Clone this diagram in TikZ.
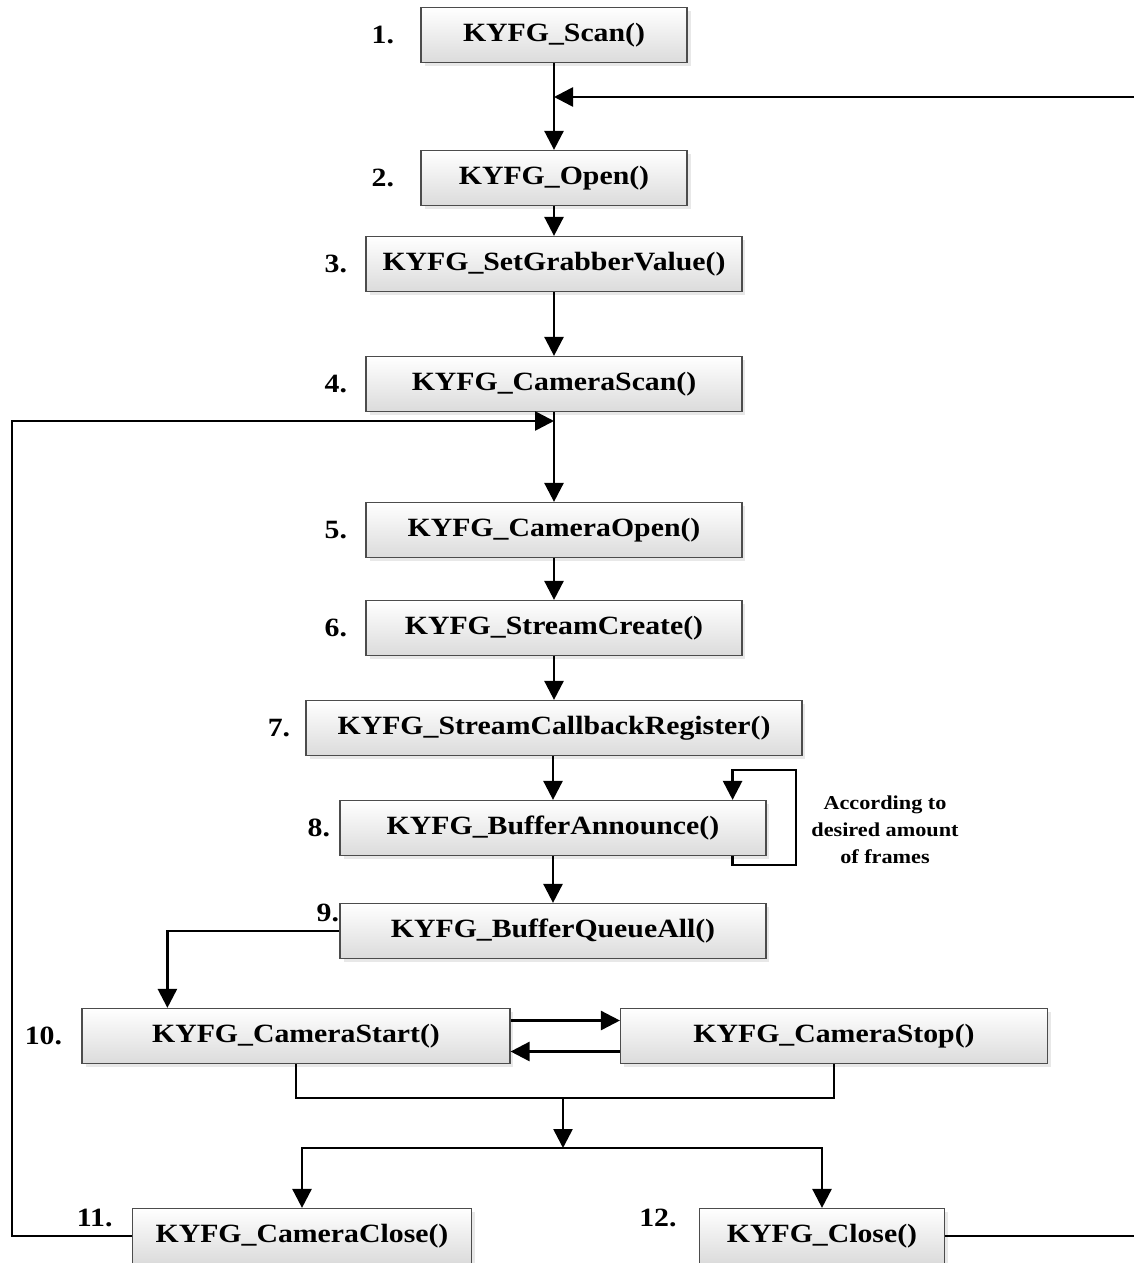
\documentclass[tikz,border=0pt]{standalone}
\usepackage{fontspec}
\setmainfont[FakeStretch=1.13]{Liberation Serif}
\usetikzlibrary{arrows.meta,shadows}

\begin{document}
\begin{tikzpicture}
[
x=0.02cm, y=-0.02cm,
>={Triangle[length=0.38cm,width=0.38cm]},
flow/.style={line width=1.5pt},
arr/.style={flow,->},
every label/.style={inner sep=0pt,font=\fontsize{15}{17}\selectfont\bfseries},
fn/.style 2 args={draw=black!70,line width=0.7pt,top color=white,bottom color=black!14,
  minimum height=1.1cm,font=\fontsize{15}{17}\selectfont\bfseries,
  drop shadow={opacity=0.18,shadow xshift=2pt,shadow yshift=-2pt},
  label={#1:#2}},
note/.style={align=center,font=\fontsize{11.2}{15.4}\selectfont\bfseries},
]
\useasboundingbox (0,0) rectangle (1133,1263);

%Place the nodes
\node[fn={[label distance=0.52cm]left}{1.},minimum width=5.32cm] (scan) at (554,35) {KYFG\_Scan()};
\node[fn={[label distance=0.52cm]left}{2.},minimum width=5.32cm] (open) at (554,178) {KYFG\_Open()};
\node[fn={[label distance=0.36cm]left}{3.},minimum width=7.52cm] (grab) at (554,264) {KYFG\_SetGrabberValue()};
\node[fn={[label distance=0.36cm]left}{4.},minimum width=7.52cm] (camscan) at (554,384) {KYFG\_CameraScan()};
\node[fn={[label distance=0.36cm]left}{5.},minimum width=7.52cm] (camopen) at (554,530) {KYFG\_CameraOpen()};
\node[fn={[label distance=0.36cm]left}{6.},minimum width=7.52cm] (stream) at (554,628) {KYFG\_StreamCreate()};
\node[fn={[label distance=0.3cm]left}{7.},minimum width=9.92cm] (callback) at (554,728) {KYFG\_StreamCallbackRegister()};
\node[fn={[label distance=0.18cm]left}{8.},minimum width=8.52cm] (announce) at (553,828) {KYFG\_BufferAnnounce()};
\node[fn={[label distance=0cm,yshift=0.36cm]left}{9.},minimum width=8.52cm] (queue) at (553,931) {KYFG\_BufferQueueAll()};
\node[fn={[label distance=0.38cm]left}{10.},minimum width=8.56cm] (start) at (296,1036) {KYFG\_CameraStart()};
\node[fn={}{},minimum width=8.54cm] (stop) at (834,1036) {KYFG\_CameraStop()};
\node[fn={[label distance=0.38cm,yshift=0.36cm]left}{11.},minimum width=6.78cm] (camclose) at (302,1236) {KYFG\_CameraClose()};
\node[fn={[label distance=0.44cm,yshift=0.36cm]left}{12.},minimum width=4.9cm] (close) at (822,1236) {KYFG\_Close()};
\node[note] (frames) at (885,830) {According to\\desired amount\\of frames};

\coordinate (j1) at (554,97);
\coordinate (j2) at (554,421);
\coordinate (m) at (563,1098);
\coordinate (s) at (563,1148);

%Draw the connections
\draw[arr] (scan) -- (open);
\draw[arr] (close.east) -| (1150,97) -- (j1);
\draw[arr] (open) -- (grab);
\draw[arr] (grab) -- (camscan);
\draw[arr] (camscan) -- (camopen);
\draw[arr] (camclose.west) -| (12,421) -- (j2);
\draw[arr] (camopen) -- (stream);
\draw[arr] (stream) -- (callback);
\draw[arr] (callback.south -| announce) -- (announce);
\draw[arr] ([xshift=-0.68cm]announce.south east) -- ++(0,9) -| (796,770) -| ([xshift=-0.68cm]announce.north east);
\draw[arr] (announce) -- (queue);
\draw[arr] (queue.west) -| ([xshift=1.72cm]start.north west);
\draw[arr] ([yshift=0.31cm]start.east) -- ([yshift=0.31cm]stop.west);
\draw[arr] ([yshift=-0.31cm]stop.west) -- ([yshift=-0.31cm]start.east);
\draw[flow] (start.south) |- (m) -| (stop.south);
\draw[arr] (m) -- (s);
\draw[arr] (s) -| (camclose.north);
\draw[arr] (s) -| (close.north);
\end{tikzpicture}
\end{document}
